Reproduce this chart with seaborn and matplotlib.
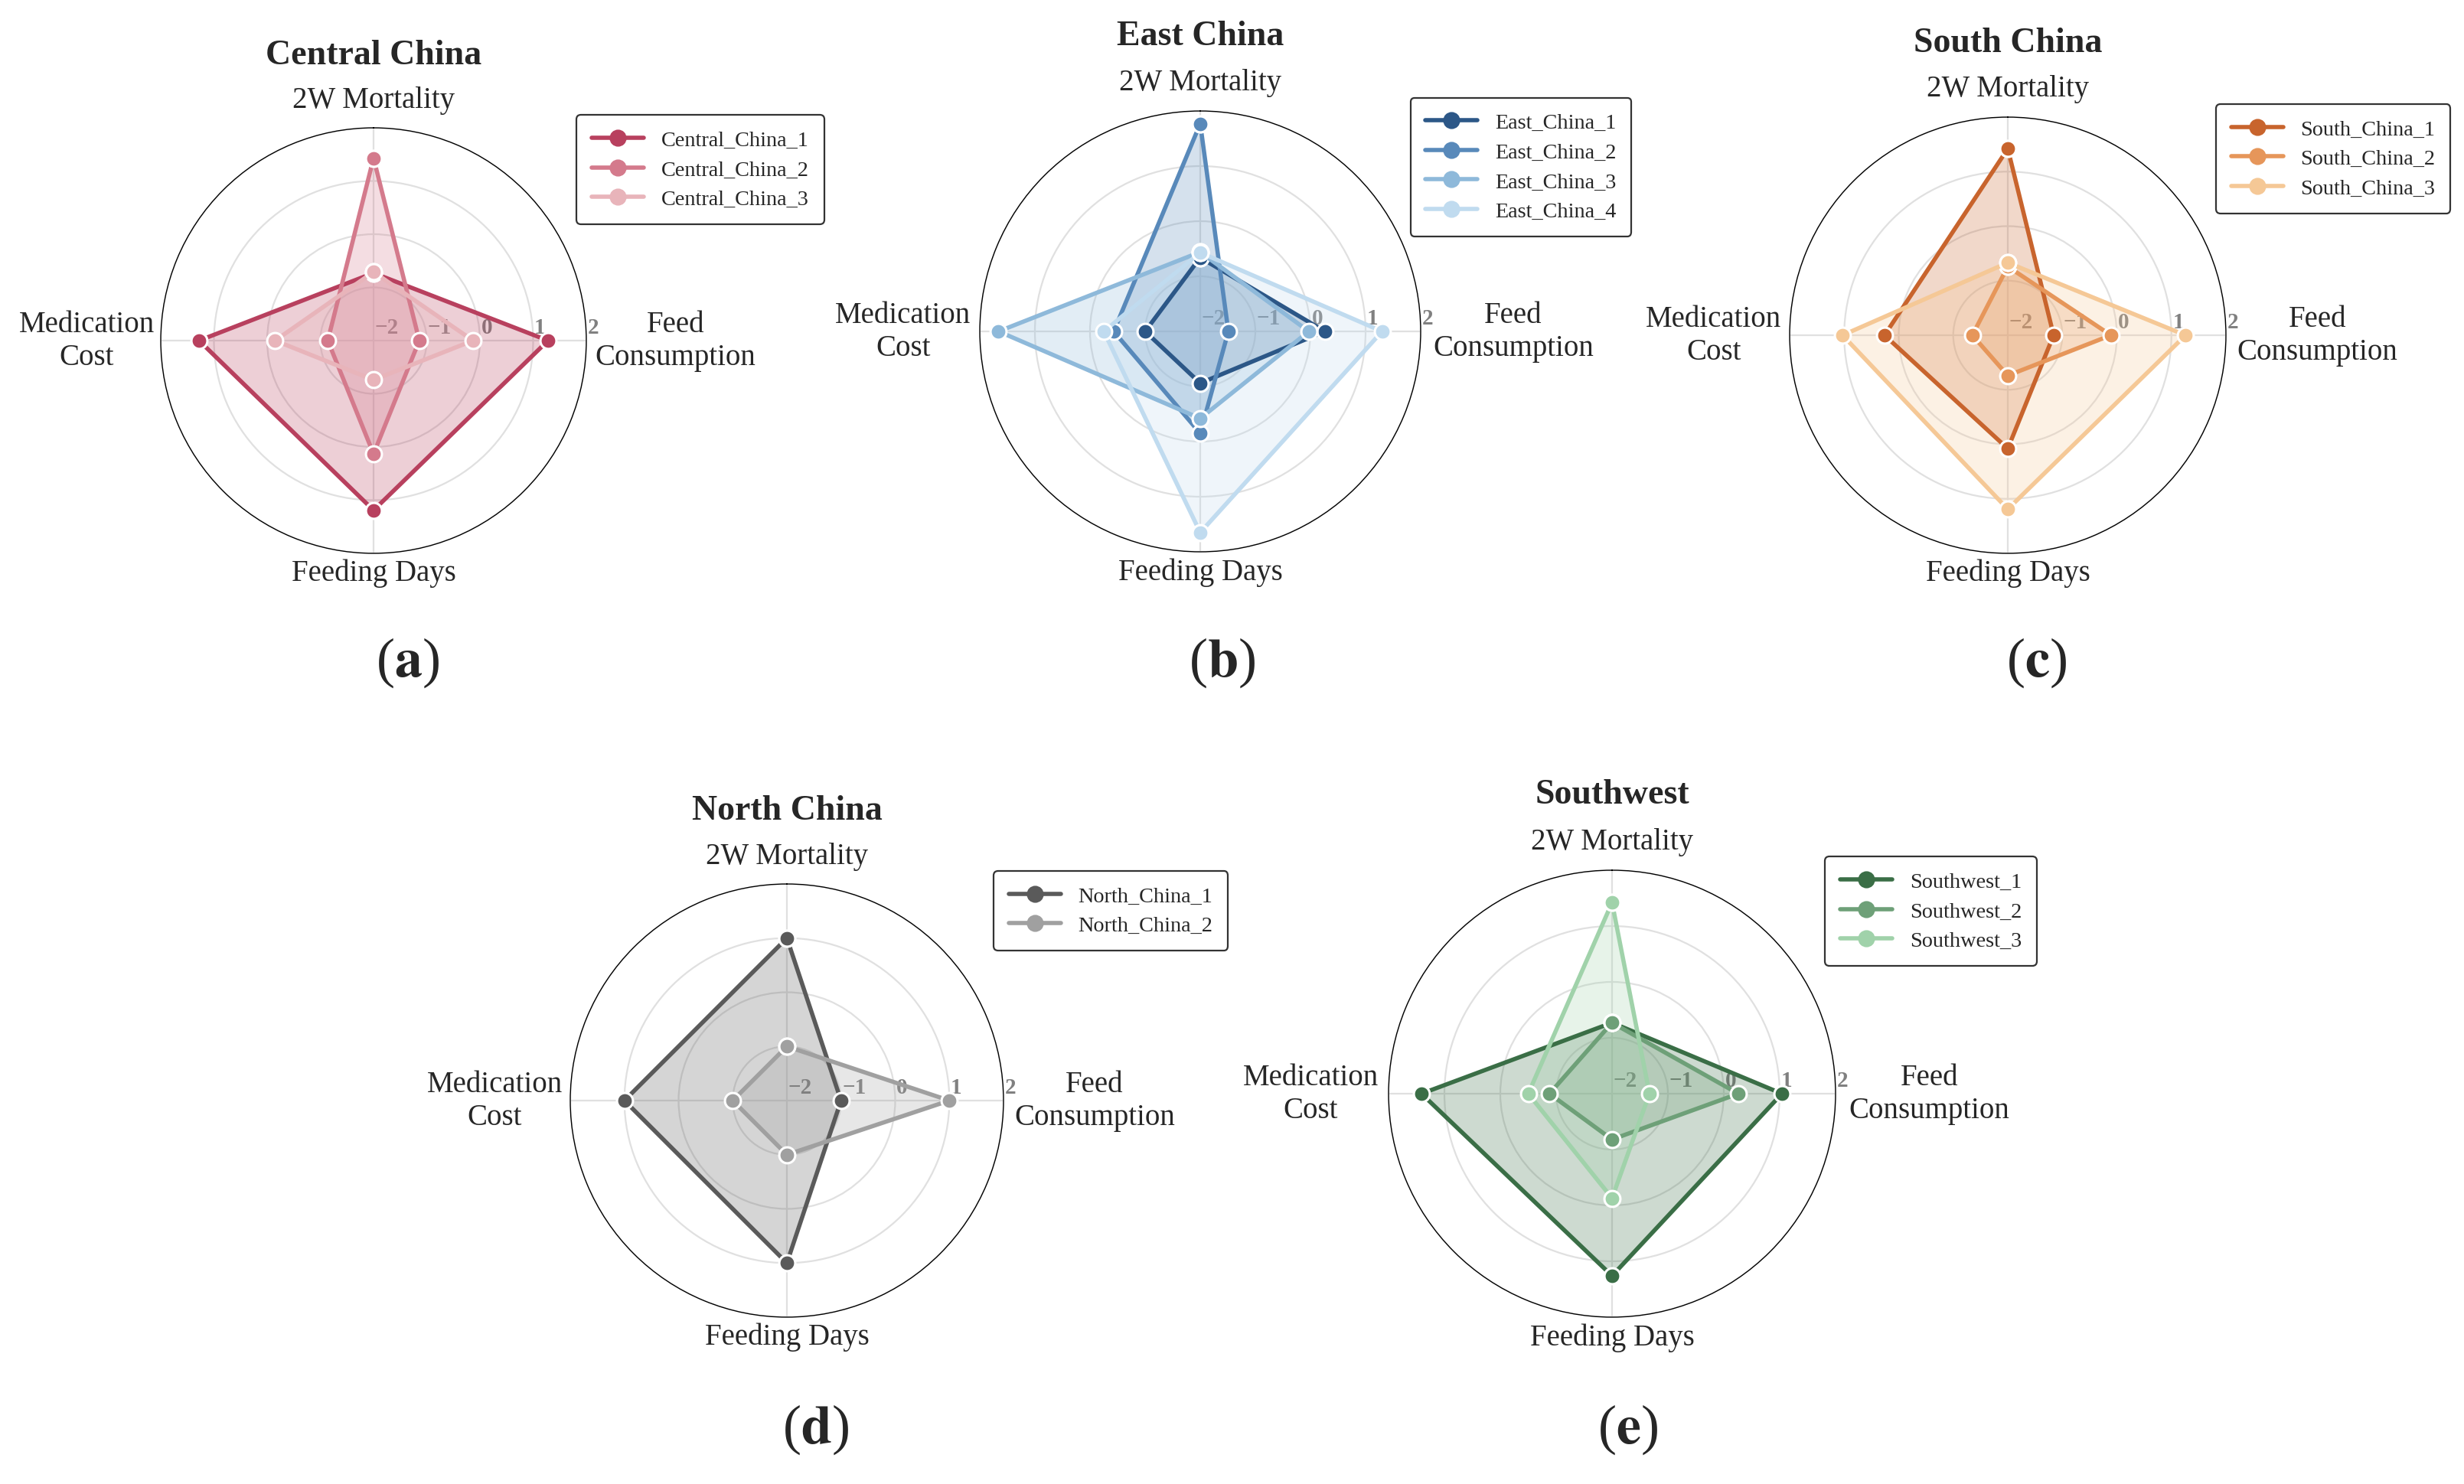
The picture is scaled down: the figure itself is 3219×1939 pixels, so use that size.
import numpy as np
import pandas as pd
import matplotlib
matplotlib.use("Agg")
from matplotlib import pyplot as plt
from matplotlib.lines import Line2D
import seaborn as sns

# Radar axes (clockwise from top)
CATEGORIES = ["2W Mortality", "Feed Consumption", "Feeding Days", "Medication Cost"]
AXIS_LABELS = ["2W Mortality", "Feed\nConsumption", "Feeding Days", "Medication\nCost"]
R_TICKS = [-2, -1, 0, 1, 2]

# Standardised scores per sample
CENTRAL_NAMES = ["Central_China_1", "Central_China_2", "Central_China_3"]
CENTRAL_1 = [-0.73, 1.28, 1.19, 1.28]
CENTRAL_2 = [1.43, -1.14, 0.13, -1.14]
CENTRAL_3 = [-0.71, -0.13, -1.26, -0.15]
CENTRAL_COLORS = ["#B8405E", "#D47A8C", "#E8B4BA"]

EAST_NAMES = ["East_China_1", "East_China_2", "East_China_3", "East_China_4"]
EAST_1 = [-0.66, 0.26, -1.06, -1.00]
EAST_2 = [1.77, -1.49, -0.15, -0.43]
EAST_3 = [-0.56, -0.03, -0.42, 1.66]
EAST_4 = [-0.57, 1.30, 1.65, -0.25]
EAST_COLORS = ["#2C5787", "#5889BA", "#8EB9DA", "#C0DBEF"]

SOUTH_NAMES = ["South_China_1", "South_China_2", "South_China_3"]
SOUTH_1 = [1.42, -1.16, 0.08, 0.26]
SOUTH_2 = [-0.74, -0.11, -1.26, -1.35]
SOUTH_3 = [-0.67, 1.26, 1.19, 1.03]
SOUTH_COLORS = ["#C8642D", "#E6965A", "#F5C896"]

NORTH_NAMES = ["North_China_1", "North_China_2"]
NORTH_1 = [1.0, -1.0, 1.0, 1.0]
NORTH_2 = [-1.0, 1.0, -1.0, -1.0]
NORTH_COLORS = ["#5A5A5A", "#A0A0A0"]

SW_NAMES = ["Southwest_1", "Southwest_2", "Southwest_3"]
SW_1 = [-0.73, 1.04, 1.26, 1.41]
SW_2 = [-0.73, 0.26, -1.18, -0.88]
SW_3 = [1.42, -1.33, -0.13, -0.50]
SW_COLORS = ["#3A6E46", "#6EA078", "#A0D2AA"]

W, H = 3219, 1940


def _box(cx, cy, r):
    """Axes rectangle (figure fraction) for a radar centred at pixel (cx, cy)."""
    return [(cx - r) / W, 1 - (cy + r) / H, 2 * r / W, 2 * r / H]


def radar(fig, rect, title, letter, letter_xy, names, series, colors):
    ax = fig.add_axes(rect, projection="polar")
    ax.set_theta_offset(np.pi / 2)
    ax.set_theta_direction(-1)

    theta = np.linspace(0, 2 * np.pi, len(CATEGORIES), endpoint=False)
    theta_closed = np.append(theta, theta[0])

    rows = []
    for name, vals in zip(names, series):
        closed = list(vals) + [vals[0]]
        for t, v in zip(theta_closed, closed):
            rows.append({"theta": t, "value": v, "sample": name})
    df = pd.DataFrame(rows)

    for name, vals, c in zip(names, series, colors):
        ax.fill(theta_closed, list(vals) + [vals[0]], color=c, alpha=0.25,
                lw=0, zorder=1)

    sns.lineplot(
        data=df, x="theta", y="value", hue="sample", hue_order=names,
        palette=colors, sort=False, estimator=None, marker="o",
        markersize=7.5, markeredgecolor="white", markeredgewidth=1.1,
        linewidth=2.0, legend=False, ax=ax, zorder=3,
    )
    ax.set_xlabel("")
    ax.set_ylabel("")

    ax.set_ylim(-2, 2)
    ax.set_yticks(R_TICKS)
    ax.set_yticklabels([])
    ax.set_xticks(theta)
    ax.set_xticklabels([])
    ax.grid(True, color="#e0e0e0", lw=0.8)
    ax.set_axisbelow(True)
    ax.spines["polar"].set_color("black")
    ax.spines["polar"].set_linewidth(0.5)
    ax.tick_params(length=0)

    for v in R_TICKS:
        ax.annotate(
            f"{v}".replace("-", "\u2212"), xy=(np.pi / 2, v), xytext=(0.5, 1.5),
            textcoords="offset points", ha="left", va="bottom",
            fontsize=10.5, weight="bold", color="#808080", zorder=0.5,
        )

    # category labels around the circle
    lab = dict(fontsize=14, ha="center", va="center", multialignment="center",
               transform=ax.transAxes)
    ax.text(0.5, 1.065, AXIS_LABELS[0], **lab)
    ax.text(1.21, 0.5, AXIS_LABELS[1], **lab)
    ax.text(0.5, -0.045, AXIS_LABELS[2], **lab)
    ax.text(-0.174, 0.5, AXIS_LABELS[3], **lab)

    ax.text(0.5, 1.17, title, fontsize=16.5, weight="bold", ha="center",
            va="center", transform=ax.transAxes)

    handles = [
        Line2D([0], [0], color=c, lw=2.0, marker="o", markersize=7,
               markeredgecolor=c)
        for c in colors
    ]
    ax.legend(
        handles, names, loc="upper left", bbox_to_anchor=(0.962, 1.045),
        fontsize=10.2, frameon=True, edgecolor="#333333", framealpha=1,
        fancybox=True, borderpad=0.7, handlelength=2.4, handletextpad=0.8,
        labelspacing=0.45, borderaxespad=0.3,
    ).get_frame().set_linewidth(0.8)

    fig.text(letter_xy[0] / W, 1 - letter_xy[1] / H, "($\\mathbf{%s}$)" % letter,
             fontsize=26, ha="center", va="center")
    return ax


sns.set_theme(style="white")
plt.rcParams["font.family"] = ["Liberation Serif", "DejaVu Serif"]
plt.rcParams["mathtext.fontset"] = "stix"

fig = plt.figure(figsize=(W / 200, H / 200), dpi=200)

radar(fig, _box(488, 446, 278), "Central China", "a", (533, 866),
      CENTRAL_NAMES, [CENTRAL_1, CENTRAL_2, CENTRAL_3], CENTRAL_COLORS)
radar(fig, _box(1568, 434, 288), "East China", "b", (1597, 866),
      EAST_NAMES, [EAST_1, EAST_2, EAST_3, EAST_4], EAST_COLORS)
radar(fig, _box(2623, 439, 285), "South China", "c", (2661, 866),
      SOUTH_NAMES, [SOUTH_1, SOUTH_2, SOUTH_3], SOUTH_COLORS)
radar(fig, _box(1028, 1439, 283), "North China", "d", (1066, 1868),
      NORTH_NAMES, [NORTH_1, NORTH_2], NORTH_COLORS)
radar(fig, _box(2106, 1430, 292), "Southwest", "e", (2127, 1868),
      SW_NAMES, [SW_1, SW_2, SW_3], SW_COLORS)

fig.savefig("out.png", dpi=200, facecolor="white")
